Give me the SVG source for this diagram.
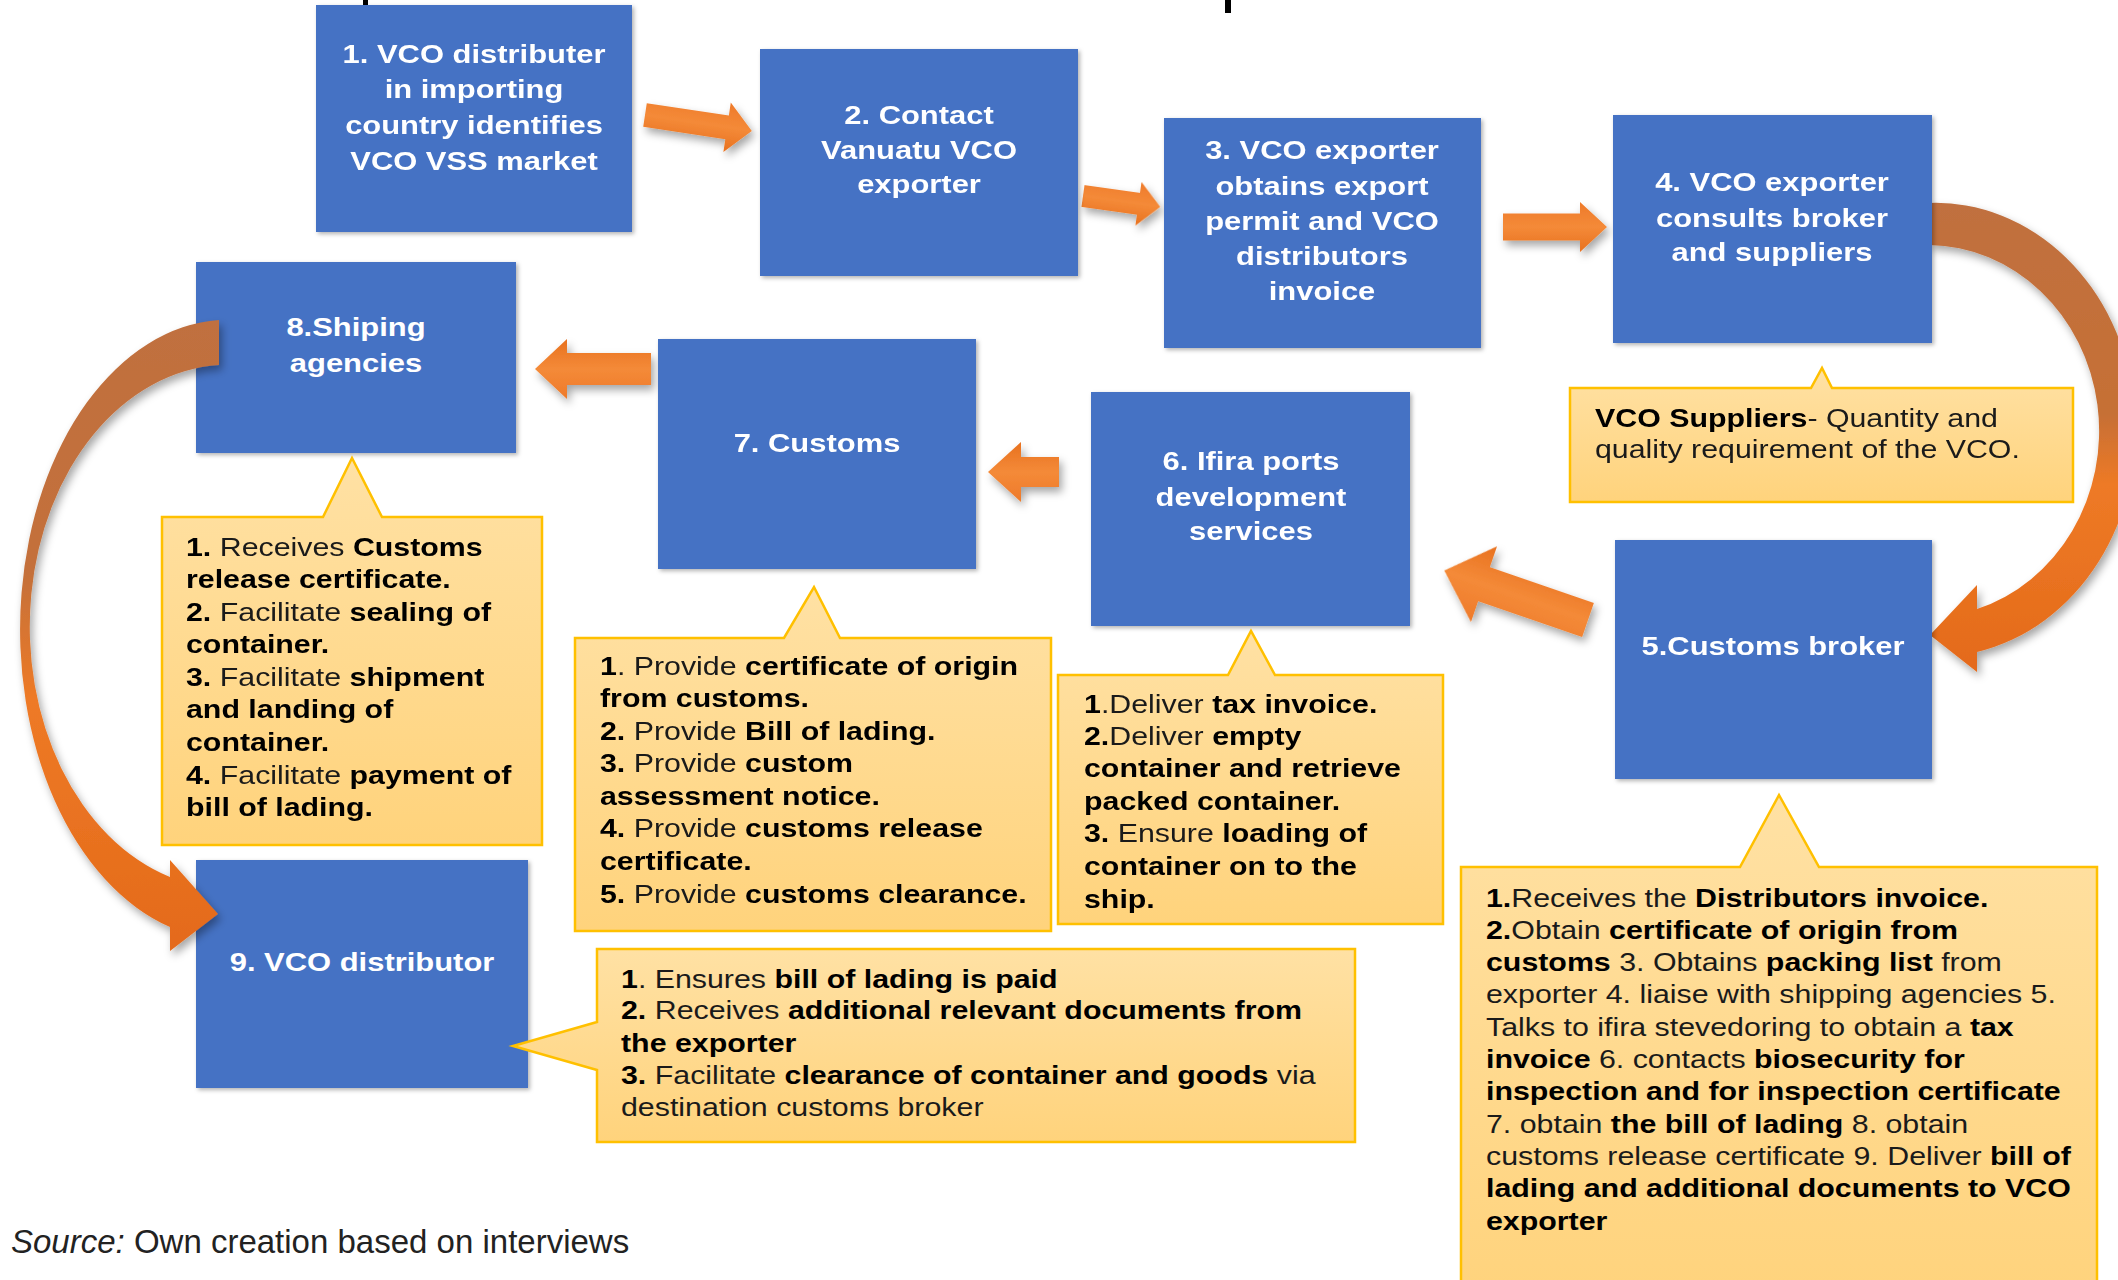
<svg xmlns="http://www.w3.org/2000/svg" width="2118" height="1280" viewBox="0 0 2118 1280">
<defs>
<style>
.box{fill:#4472C4}
.bx{font-family:"Liberation Sans",Arial,sans-serif;font-weight:bold;font-size:26px;fill:#FFFFFF;text-anchor:middle}
.co{fill:url(#cog);stroke:#FFC000;stroke-width:2.5}
.ct{font-family:"Liberation Sans",Arial,sans-serif;font-size:25.5px;fill:#1a1a1a}
.b{font-weight:bold;fill:#000}
.arr{fill:url(#ag)}
.src{font-family:"Liberation Sans",Arial,sans-serif;font-size:33px;fill:#222}
</style>
<linearGradient id="cog" x1="0" y1="0" x2="0" y2="1">
<stop offset="0" stop-color="#FFE1A4"/>
<stop offset="1" stop-color="#FFD37C"/>
</linearGradient>
<linearGradient id="ag" x1="0" y1="0" x2="0" y2="1">
<stop offset="0" stop-color="#EE7A2A"/>
<stop offset="0.5" stop-color="#F48A38"/>
<stop offset="1" stop-color="#E8711F"/>
</linearGradient>
<linearGradient id="cr" x1="0" y1="0" x2="0" y2="1">
<stop offset="0" stop-color="#C0703F"/>
<stop offset="0.45" stop-color="#C66F35"/>
<stop offset="0.6" stop-color="#EE7A26"/>
<stop offset="1" stop-color="#E46A1A"/>
</linearGradient>
<linearGradient id="cl" x1="0" y1="0" x2="0" y2="1">
<stop offset="0" stop-color="#C0703F"/>
<stop offset="0.4" stop-color="#C4703A"/>
<stop offset="0.6" stop-color="#EE7A26"/>
<stop offset="1" stop-color="#E46A1A"/>
</linearGradient>
<filter id="sh" x="-10%" y="-10%" width="130%" height="130%">
<feDropShadow dx="2" dy="2" stdDeviation="2" flood-color="#000" flood-opacity="0.3"/>
</filter>
<filter id="ash" x="-20%" y="-30%" width="150%" height="180%">
<feDropShadow dx="3" dy="5" stdDeviation="4" flood-color="#000" flood-opacity="0.35"/>
</filter>
<path id="a1" d="M0,-12 H84 V-25 L108,0 L84,25 V12 H0 Z"/>
</defs>
<rect width="2118" height="1280" fill="#FFFFFF"/>

<!-- title fragments -->
<rect x="363" y="0" width="5" height="10" fill="#000"/>
<rect x="1225" y="0" width="6" height="13" fill="#000"/>

<g id="connectors">
<g filter="url(#ash)">
<path class="arr" transform="translate(645,115) rotate(8.5)" d="M0,-12 H83 V-25 L108,0 L83,25 V12 H0 Z"/>
<path class="arr" transform="translate(1083,196) rotate(8)" d="M0,-11 H56 V-22 L78,0 L56,22 V11 H0 Z"/>
<path class="arr" transform="translate(1503,227)" d="M0,-13.5 H77 V-25 L104,0 L77,25 V13.5 H0 Z"/>
<path class="arr" transform="translate(651,369) rotate(180)" d="M0,-16 H84 V-30 L116,0 L84,30 V16 H0 Z"/>
<path class="arr" transform="translate(1059,472) rotate(180)" d="M0,-15 H38 V-30 L71,0 L38,30 V15 H0 Z"/>
<path class="arr" transform="translate(1588,620) rotate(199)" d="M0,-18 H110 V-40 L152,0 L110,40 V18 H0 Z"/>
<path fill="url(#cr)" d="M1929,203 A200,227 0 0 1 1977,652 L1977,672 L1930,635 L1977,585 L1977,609 A172,186 0 0 0 1929,245 Z"/>
</g>
</g>

<g id="node1">
<rect class="box" x="316" y="5" width="316" height="227" filter="url(#sh)"/>
<g transform="translate(474,0) scale(1.19,1)" class="bx">
<text x="0" y="63">1. VCO distributer</text>
<text x="0" y="98">in importing</text>
<text x="0" y="134">country identifies</text>
<text x="0" y="170">VCO VSS market</text>
</g>
</g>

<g id="node2">
<rect class="box" x="760" y="49" width="318" height="227" filter="url(#sh)"/>
<g transform="translate(919,0) scale(1.19,1)" class="bx">
<text x="0" y="124">2. Contact</text>
<text x="0" y="159">Vanuatu VCO</text>
<text x="0" y="193">exporter</text>
</g>
</g>

<g id="node3">
<rect class="box" x="1164" y="118" width="317" height="230" filter="url(#sh)"/>
<g transform="translate(1322,0) scale(1.19,1)" class="bx">
<text x="0" y="159">3. VCO exporter</text>
<text x="0" y="195">obtains export</text>
<text x="0" y="230">permit and VCO</text>
<text x="0" y="265">distributors</text>
<text x="0" y="300">invoice</text>
</g>
</g>

<g id="node4">
<rect class="box" x="1613" y="115" width="319" height="228" filter="url(#sh)"/>
<g transform="translate(1772,0) scale(1.19,1)" class="bx">
<text x="0" y="191">4. VCO exporter</text>
<text x="0" y="227">consults broker</text>
<text x="0" y="261">and suppliers</text>
</g>
</g>

<g id="node5">
<rect class="box" x="1615" y="540" width="317" height="239" filter="url(#sh)"/>
<g transform="translate(1773,0) scale(1.19,1)" class="bx">
<text x="0" y="655">5.Customs broker</text>
</g>
</g>

<g id="node6">
<rect class="box" x="1091" y="392" width="319" height="234" filter="url(#sh)"/>
<g transform="translate(1251,0) scale(1.19,1)" class="bx">
<text x="0" y="470">6. Ifira ports</text>
<text x="0" y="506">development</text>
<text x="0" y="540">services</text>
</g>
</g>

<g id="node7">
<rect class="box" x="658" y="339" width="318" height="230" filter="url(#sh)"/>
<g transform="translate(817,0) scale(1.19,1)" class="bx">
<text x="0" y="452">7. Customs</text>
</g>
</g>

<g id="node8">
<rect class="box" x="196" y="262" width="320" height="191" filter="url(#sh)"/>
<g transform="translate(356,0) scale(1.19,1)" class="bx">
<text x="0" y="336">8.Shiping</text>
<text x="0" y="372">agencies</text>
</g>
</g>

<g id="node9">
<rect class="box" x="196" y="860" width="332" height="228" filter="url(#sh)"/>
<g transform="translate(362,0) scale(1.19,1)" class="bx">
<text x="0" y="971">9. VCO distributor</text>
</g>
</g>

<g id="curve89" filter="url(#ash)">
<path fill="url(#cl)" d="M219,320 A209,310 0 0 0 170,927 L170,951 L218,914 L170,860 L170,877 A199,262 0 0 1 219,365 Z"/>
</g>

<g id="callout-suppliers">
<path class="co" d="M1570,388 H1811 L1822,368 L1832,388 H2073 V502 H1570 Z"/>
<g transform="translate(1595,0) scale(1.19,1)" class="ct">
<text x="0" y="427"><tspan class="b">VCO Suppliers</tspan>- Quantity and</text>
<text x="0" y="458">quality requirement of the VCO.</text>
</g>
</g>

<g id="callout8">
<path class="co" d="M162,517 H323 L352,458 L382,517 H542 V845 H162 Z"/>
<g transform="translate(186,0) scale(1.19,1)" class="ct">
<text x="0" y="556"><tspan class="b">1.</tspan> Receives <tspan class="b">Customs</tspan></text>
<text x="0" y="588.5"><tspan class="b">release certificate.</tspan></text>
<text x="0" y="621"><tspan class="b">2.</tspan> Facilitate <tspan class="b">sealing of</tspan></text>
<text x="0" y="653.5"><tspan class="b">container.</tspan></text>
<text x="0" y="686"><tspan class="b">3.</tspan> Facilitate <tspan class="b">shipment</tspan></text>
<text x="0" y="718.5"><tspan class="b">and landing of</tspan></text>
<text x="0" y="751"><tspan class="b">container.</tspan></text>
<text x="0" y="784"><tspan class="b">4.</tspan> Facilitate <tspan class="b">payment of</tspan></text>
<text x="0" y="816.5"><tspan class="b">bill of lading.</tspan></text>
</g>
</g>

<g id="callout7">
<path class="co" d="M575,638 H784 L814,587 L840,638 H1051 V931 H575 Z"/>
<g transform="translate(600,0) scale(1.19,1)" class="ct">
<text x="0" y="675"><tspan class="b">1</tspan>. Provide <tspan class="b">certificate of origin</tspan></text>
<text x="0" y="707.5"><tspan class="b">from customs.</tspan></text>
<text x="0" y="740"><tspan class="b">2.</tspan> Provide <tspan class="b">Bill of lading.</tspan></text>
<text x="0" y="772.5"><tspan class="b">3.</tspan> Provide <tspan class="b">custom</tspan></text>
<text x="0" y="805"><tspan class="b">assessment notice.</tspan></text>
<text x="0" y="837.5"><tspan class="b">4.</tspan> Provide <tspan class="b">customs release</tspan></text>
<text x="0" y="870.5"><tspan class="b">certificate.</tspan></text>
<text x="0" y="903"><tspan class="b">5.</tspan> Provide <tspan class="b">customs clearance.</tspan></text>
</g>
</g>

<g id="callout6">
<path class="co" d="M1058,675 H1228 L1251,631 L1275,675 H1443 V924 H1058 Z"/>
<g transform="translate(1084,0) scale(1.19,1)" class="ct">
<text x="0" y="713"><tspan class="b">1</tspan>.Deliver <tspan class="b">tax invoice.</tspan></text>
<text x="0" y="745"><tspan class="b">2.</tspan>Deliver <tspan class="b">empty</tspan></text>
<text x="0" y="777.5"><tspan class="b">container and retrieve</tspan></text>
<text x="0" y="810"><tspan class="b">packed container.</tspan></text>
<text x="0" y="842.5"><tspan class="b">3.</tspan> Ensure <tspan class="b">loading of</tspan></text>
<text x="0" y="875.5"><tspan class="b">container on to the</tspan></text>
<text x="0" y="908"><tspan class="b">ship.</tspan></text>
</g>
</g>

<g id="callout5">
<path class="co" d="M1461,867 H1740 L1779,795 L1819,867 H2097 V1300 H1461 Z"/>
<g transform="translate(1486,0) scale(1.19,1)" class="ct">
<text x="0" y="907"><tspan class="b">1.</tspan>Receives the <tspan class="b">Distributors invoice.</tspan></text>
<text x="0" y="939"><tspan class="b">2.</tspan>Obtain <tspan class="b">certificate of origin from</tspan></text>
<text x="0" y="971"><tspan class="b">customs</tspan> 3. Obtains <tspan class="b">packing list</tspan> from</text>
<text x="0" y="1003.5">exporter 4. liaise with shipping agencies 5.</text>
<text x="0" y="1036">Talks to ifira stevedoring to obtain a <tspan class="b">tax</tspan></text>
<text x="0" y="1068"><tspan class="b">invoice</tspan> 6. contacts <tspan class="b">biosecurity for</tspan></text>
<text x="0" y="1100.5"><tspan class="b">inspection and for inspection certificate</tspan></text>
<text x="0" y="1133">7. obtain <tspan class="b">the bill of lading</tspan> 8. obtain</text>
<text x="0" y="1165">customs release certificate 9. Deliver <tspan class="b">bill of</tspan></text>
<text x="0" y="1197.5"><tspan class="b">lading and additional documents to VCO</tspan></text>
<text x="0" y="1230"><tspan class="b">exporter</tspan></text>
</g>
</g>

<g id="callout9">
<path class="co" d="M597,949 H1355 V1142 H597 V1070 L513,1046 L597,1022 Z"/>
<g transform="translate(621,0) scale(1.19,1)" class="ct">
<text x="0" y="988"><tspan class="b">1</tspan>. Ensures <tspan class="b">bill of lading is paid</tspan></text>
<text x="0" y="1019.5"><tspan class="b">2.</tspan> Receives <tspan class="b">additional relevant documents from</tspan></text>
<text x="0" y="1052"><tspan class="b">the exporter</tspan></text>
<text x="0" y="1084"><tspan class="b">3.</tspan> Facilitate <tspan class="b">clearance of container and goods</tspan> via</text>
<text x="0" y="1116.5">destination customs broker</text>
</g>
</g>

<text class="src" x="11" y="1253"><tspan font-style="italic">Source:</tspan> Own creation based on interviews</text>
</svg>
